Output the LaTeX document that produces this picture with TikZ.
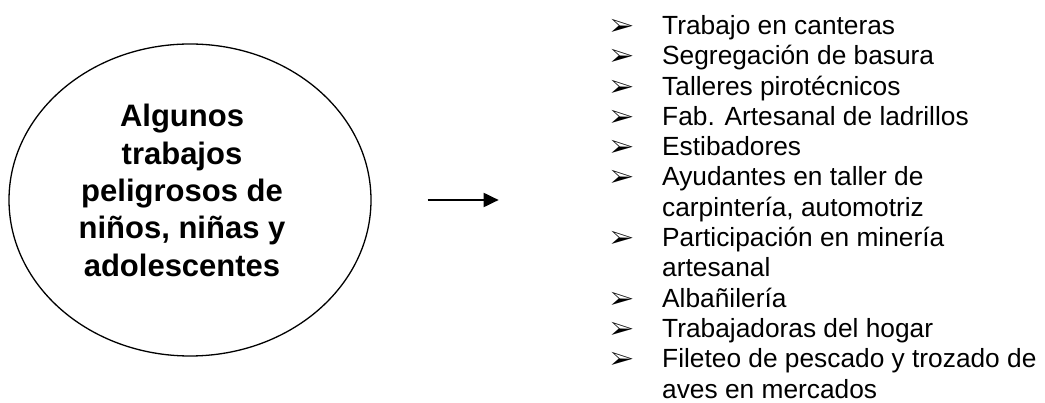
\documentclass[tikz,border=0pt]{standalone}
\usepackage{fontspec}
\setmainfont{Liberation Sans}
\usepackage{pifont}
\usetikzlibrary{arrows.meta,positioning,shapes.geometric}
\tikzset{
  bigoval/.style={draw,ellipse,line width=1.3pt,minimum width=362pt,
    minimum height=312pt,inner sep=0pt},
  heading/.style={font=\fontsize{31}{37.3}\selectfont\bfseries,align=center,
    anchor=base,inner sep=0pt},
  bullet/.style={font=\fontsize{25}{30.3}\selectfont,inner sep=0pt},
  item/.style={font=\fontsize{26.3}{30.3}\selectfont,align=left,
    anchor=base west,inner sep=0pt},
  arrow/.style={-{Triangle[length=15pt,width=14pt]},line width=2pt}
}
\begin{document}
\begin{tikzpicture}[x=1pt,y=-1pt]
  \useasboundingbox (0,0) rectangle (1045,403);
  % oval with the heading on the left (base = last line)
  \node[bigoval] (oval) at (190,200) {};
  \node[heading] (ttl) at (182,276.2) {Algunos\\trabajos\\peligrosos de\\niños, niñas y\\adolescentes};

  % list of jobs on the right, two-line items sit on their last line
  \node[item] (t1) at (662,34.5) {Trabajo en canteras};
  \node[item] (t2) at (662,64.8) {Segregación de basura};
  \node[item] (t3) at (662,95.1) {Talleres pirotécnicos};
  \node[item] (t4) at (662,125.4) {Fab. Artesanal de ladrillos};
  \node[item] (t5) at (662,155.7) {Estibadores};
  \node[item] (t6) at (662,216.3) {Ayudantes en taller de\\carpintería, automotriz};
  \node[item] (t7) at (662,276.9) {Participación en minería\\artesanal};
  \node[item] (t8) at (662,307.2) {Albañilería};
  \node[item] (t9) at (662,337.5) {Trabajadoras del hogar};
  \node[item] (t10) at (662,398.1) {Fileteo de pescado y trozado de\\aves en mercados};

  \node[bullet,base left=28pt of t1] (b1) {\ding{226}};
  \node[bullet,base left=28pt of t2] (b2) {\ding{226}};
  \node[bullet,base left=28pt of t3] (b3) {\ding{226}};
  \node[bullet,base left=28pt of t4] (b4) {\ding{226}};
  \node[bullet,base left=28pt of t5] (b5) {\ding{226}};
  \node[bullet,base left=28pt of t6,yshift=30.3pt] (b6) {\ding{226}};
  \node[bullet,base left=28pt of t7,yshift=30.3pt] (b7) {\ding{226}};
  \node[bullet,base left=28pt of t8] (b8) {\ding{226}};
  \node[bullet,base left=28pt of t9] (b9) {\ding{226}};
  \node[bullet,base left=28pt of t10,yshift=30.3pt] (b10) {\ding{226}};

  % arrow between the oval and the list
  \draw[arrow] ([xshift=56pt]oval.east) -- ([xshift=127pt]oval.east);
\end{tikzpicture}
\end{document}
